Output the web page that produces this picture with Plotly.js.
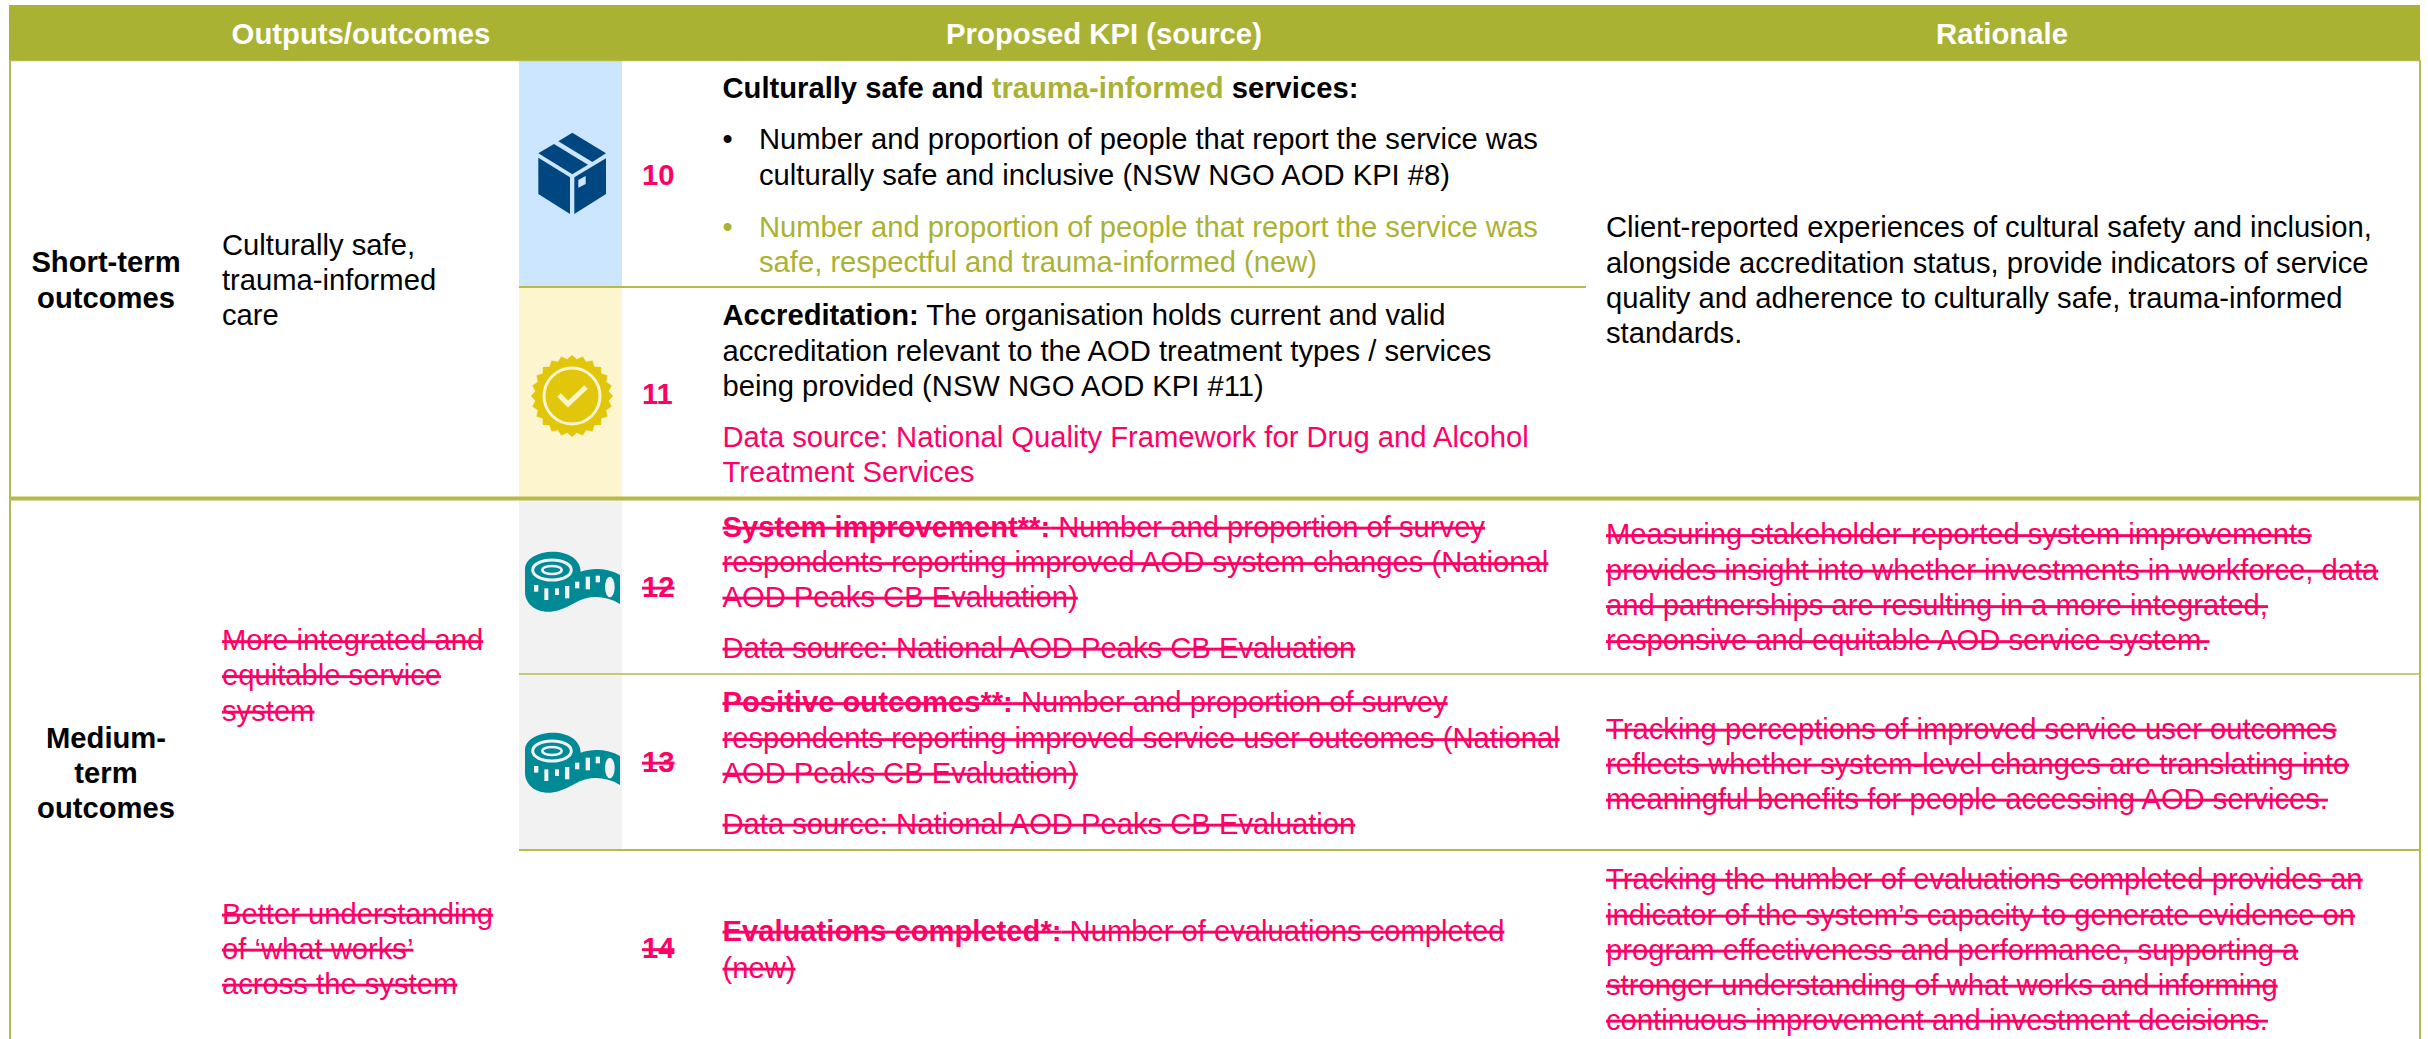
<!DOCTYPE html>
<html><head><meta charset="utf-8">
<script src="https://cdn.plot.ly/plotly-3.0.1.min.js"></script>
<style>html,body{margin:0;padding:0;background:#fff}#c{width:2428px;height:1039px}</style>
</head><body><div id="c"></div>
<script>
// ---------- table content ----------
const headerLabels = ['Outputs/outcomes', 'Proposed KPI (source)', 'Rationale'];
const stageShort = ['Short-term', 'outcomes'];
const stageMedium = ['Medium-', 'term', 'outcomes'];
const outcomeCare = ['Culturally safe,', 'trauma-informed', 'care'];
const outcomeSystem = ['More integrated and', 'equitable service', 'system'];
const outcomeWorks = ['Better understanding', 'of ‘what works’', 'across the system'];
const kpiNumbers = ['10', '11', '12', '13', '14'];
const kpi10Title = ['Culturally safe and <span style="color:#A9B232">trauma-informed</span> services:'];
const kpi10A = ['Number and proportion of people that report the service was', 'culturally safe and inclusive (NSW NGO AOD KPI #8)'];
const kpi10B = ['Number and proportion of people that report the service was', 'safe, respectful and trauma-informed (new)'];
const kpi11 = ['<b>Accreditation:</b> The organisation holds current and valid', 'accreditation relevant to the AOD treatment types / services', 'being provided (NSW NGO AOD KPI #11)'];
const kpi11Source = ['Data source: National Quality Framework for Drug and Alcohol', 'Treatment Services'];
const kpi12 = ['<b>System improvement**:</b> Number and proportion of survey', 'respondents reporting improved AOD system changes (National', 'AOD Peaks CB Evaluation)', 'Data source: National AOD Peaks CB Evaluation'];
const kpi13 = ['<b>Positive outcomes**:</b> Number and proportion of survey', 'respondents reporting improved service user outcomes (National', 'AOD Peaks CB Evaluation)', 'Data source: National AOD Peaks CB Evaluation'];
const kpi14 = ['<b>Evaluations completed*:</b> Number of evaluations completed', '(new)'];
const rationaleA = ['Client-reported experiences of cultural safety and inclusion,', 'alongside accreditation status, provide indicators of service', 'quality and adherence to culturally safe, trauma-informed', 'standards.'];
const rationale12 = ['Measuring stakeholder-reported system improvements', 'provides insight into whether investments in workforce, data', 'and partnerships are resulting in a more integrated,', 'responsive and equitable AOD service system.'];
const rationale13 = ['Tracking perceptions of improved service user outcomes', 'reflects whether system-level changes are translating into', 'meaningful benefits for people accessing AOD services.'];
const rationale14 = ['Tracking the number of evaluations completed provides an', 'indicator of the system’s capacity to generate evidence on', 'program effectiveness and performance, supporting a', 'stronger understanding of what works and informing', 'continuous improvement and investment decisions.'];

// ---------- styles and layout ----------
const OLIVE = '#A9B232', RULE = '#B5BB4A', PINK = '#FF0066', BLACK = '#000000';
const NAVY = '#004680', GOLD = '#E2C60C', TEAL = '#008A96';
const BLUE_BG = '#CCE6FF', YEL_BG = '#FCF5CE', GREY_BG = '#F2F2F2';
const FS = 29.2, HFS = 29.3, DY = 2.5;

const tx = [], ty = [], tt = [], tc = [], ts = [], tp = [];
function put(lines, x, ys, color, opt) {
  opt = opt || {};
  lines.forEach((l, i) => {
    let s = l;
    if (opt.bold) s = '<b>' + s + '</b>';
    if (opt.strike) s = '<s>' + s + '</s>';
    tx.push(x); ty.push(ys[i] + DY); tt.push(s); tc.push(color);
    ts.push(opt.size || FS); tp.push(opt.center ? 'middle center' : 'middle right');
  });
}
const hc = [361, 1104, 2002];
headerLabels.forEach((h, i) => put([h], hc[i], [34], '#FFFFFF', {bold: true, center: true, size: HFS}));
put(stageShort, 106, [262, 298], BLACK, {bold: true, center: true});
put(stageMedium, 106, [738, 773.5, 808.5], BLACK, {bold: true, center: true});
put(outcomeCare, 222, [245, 280, 315], BLACK);
put(outcomeSystem, 222, [640.5, 675.5, 711], PINK, {strike: true});
put(outcomeWorks, 222, [914, 949, 984], PINK, {strike: true});
const numY = [175, 394, 587, 762, 948.5];
kpiNumbers.forEach((n, i) => put([n], 642, [numY[i]], PINK, {bold: true, strike: i >= 2}));
const KX = 722.5, BX = 759;
put(kpi10Title, KX, [88], BLACK, {bold: true});
put(['•'], KX, [139], BLACK);
put(kpi10A, BX, [139, 175], BLACK);
put(['•'], KX, [227], OLIVE);
put(kpi10B, BX, [227, 262], OLIVE);
put(kpi11, KX, [315, 351, 386], BLACK);
put(kpi11Source, KX, [437, 472], PINK);
put(kpi12, KX, [527, 562.5, 597, 648], PINK, {strike: true});
put(kpi13, KX, [702.5, 738.5, 773, 824], PINK, {strike: true});
put(kpi14, KX, [931, 968], PINK, {strike: true});
const RX = 1606;
put(rationaleA, RX, [227, 263, 298, 333], BLACK);
put(rationale12, RX, [534.5, 570, 605.5, 640.5], PINK, {strike: true});
put(rationale13, RX, [729, 764, 799], PINK, {strike: true});
put(rationale14, RX, [879, 915, 950, 985, 1020], PINK, {strike: true});

// ---------- shapes ----------
const shapes = [];
const rect = (x0, y0, x1, y1, c) => shapes.push({type: 'rect', xref: 'x', yref: 'y', x0, y0, x1, y1, fillcolor: c, line: {width: 0}, layer: 'below'});
rect(9, 5, 2420, 60, OLIVE);
rect(519, 60, 622, 287, BLUE_BG);
rect(519, 287, 622, 497, YEL_BG);
rect(519, 500, 622, 850, GREY_BG);
const hline = (x0, x1, y, w) => shapes.push({type: 'line', xref: 'x', yref: 'y', x0, x1, y0: y, y1: y, line: {color: RULE, width: w}, layer: 'below'});
hline(9, 2420, 60.5, 1.5);
hline(519, 1586, 287, 2);
hline(9, 2420, 498.5, 4);
hline(519, 2420, 674, 1.5);
hline(519, 2420, 850, 2);
shapes.push({type: 'line', xref: 'x', yref: 'y', x0: 10, x1: 10, y0: 60, y1: 1039, line: {color: RULE, width: 2}, layer: 'below'});
shapes.push({type: 'line', xref: 'x', yref: 'y', x0: 2420, x1: 2420, y0: 60, y1: 1039, line: {color: RULE, width: 2}, layer: 'below'});

function poly(pts, ox, oy, color) {
  const p = pts.map((q, i) => (i ? 'L' : 'M') + (ox + q[0] / 3) + ',' + (oy + q[1] / 3)).join(' ') + ' Z';
  shapes.push({type: 'path', xref: 'x', yref: 'y', path: p, fillcolor: color, line: {width: 0}});
}
// box icon (sketched on a 3x grid)
const BO = [510, 120];
poly([[187,38],[288,100],[247,126],[145,64]], BO[0], BO[1], NAVY);
poly([[132,72],[234,134],[187,163],[85,100]], BO[0], BO[1], NAVY);
poly([[85,113],[180,172],[180,282],[85,222]], BO[0], BO[1], NAVY);
poly([[193,172],[288,115],[288,222],[193,282]], BO[0], BO[1], NAVY);
poly([[205,180],[227,168],[227,192],[205,203]], BO[0], BO[1], BLUE_BG);

// seal icon
const SC = [572, 396];
let seal = '';
const N = 24;
for (let i = 0; i < N * 2; i++) {
  const a = Math.PI * i / N, r = i % 2 ? 37 : 41;
  seal += (i ? 'L' : 'M') + (SC[0] + r * Math.sin(a)) + ',' + (SC[1] - r * Math.cos(a)) + ' ';
}
shapes.push({type: 'path', xref: 'x', yref: 'y', path: seal + 'Z', fillcolor: GOLD, line: {width: 0}});
shapes.push({type: 'circle', xref: 'x', yref: 'y', x0: SC[0]-28, x1: SC[0]+28, y0: SC[1]-28, y1: SC[1]+28, fillcolor: 'rgba(0,0,0,0)', line: {color: YEL_BG, width: 3}});
shapes.push({type: 'path', xref: 'x', yref: 'y',
  path: `M${SC[0]-13},${SC[1]-1} L${SC[0]-4},${SC[1]+8} L${SC[0]+14},${SC[1]-9}`,
  line: {color: YEL_BG, width: 5}});

// tape-measure icon (sketched on a 3x grid)
function tape(ox, oy, bg) {
  const X = v => ox + v / 3, Y = v => oy + v / 3;
  const body = `M${X(45)},${Y(118)} C${X(45)},${Y(85)} ${X(85)},${Y(65)} ${X(128)},${Y(65)} ` +
    `C${X(175)},${Y(65)} ${X(212)},${Y(88)} ${X(212)},${Y(125)} ` +
    `C${X(250)},${Y(112)} ${X(295)},${Y(115)} ${X(330)},${Y(135)} L${X(330)},${Y(222)} ` +
    `C${X(285)},${Y(195)} ${X(235)},${Y(195)} ${X(195)},${Y(218)} ` +
    `C${X(160)},${Y(238)} ${X(135)},${Y(245)} ${X(115)},${Y(245)} ` +
    `C${X(75)},${Y(245)} ${X(45)},${Y(220)} ${X(45)},${Y(185)} Z`;
  shapes.push({type: 'path', xref: 'x', yref: 'y', path: body, fillcolor: TEAL, line: {width: 0}});
  shapes.push({type: 'circle', xref: 'x', yref: 'y', x0: X(68), x1: X(184), y0: Y(90), y1: Y(150), fillcolor: 'rgba(0,0,0,0)', line: {color: bg, width: 3}});
  shapes.push({type: 'circle', xref: 'x', yref: 'y', x0: X(97), x1: X(155), y0: Y(108), y1: Y(132), fillcolor: 'rgba(0,0,0,0)', line: {color: bg, width: 2.5}});
  [[72,165,85,185],[103,175,115,210],[135,175,147,195],[165,168,178,205],[195,155,208,175],[227,140,240,178],[257,137,270,157]].forEach(t =>
    shapes.push({type: 'rect', xref: 'x', yref: 'y', x0: X(t[0]), y0: Y(t[1]), x1: X(t[2]), y1: Y(t[3]), fillcolor: bg, line: {width: 0}}));
  shapes.push({type: 'circle', xref: 'x', yref: 'y', x0: X(285), x1: X(314), y0: Y(140), y1: Y(202), fillcolor: bg, line: {width: 0}});
}
tape(510, 530, GREY_BG);
tape(510, 711, GREY_BG);

Plotly.newPlot('c', [{
  type: 'scatter', mode: 'text', x: tx, y: ty, text: tt, textposition: tp,
  textfont: {family: 'Liberation Sans, Arial, sans-serif', size: ts, color: tc},
  cliponaxis: false, hoverinfo: 'skip', showlegend: false
}], {
  width: 2428, height: 1039, margin: {l: 0, r: 0, t: 0, b: 0, pad: 0},
  paper_bgcolor: '#FFFFFF', plot_bgcolor: '#FFFFFF', showlegend: false,
  xaxis: {range: [0, 2428], visible: false, fixedrange: true},
  yaxis: {range: [1039, 0], visible: false, fixedrange: true},
  shapes
}, {displayModeBar: false, staticPlot: true});
</script></body></html>
